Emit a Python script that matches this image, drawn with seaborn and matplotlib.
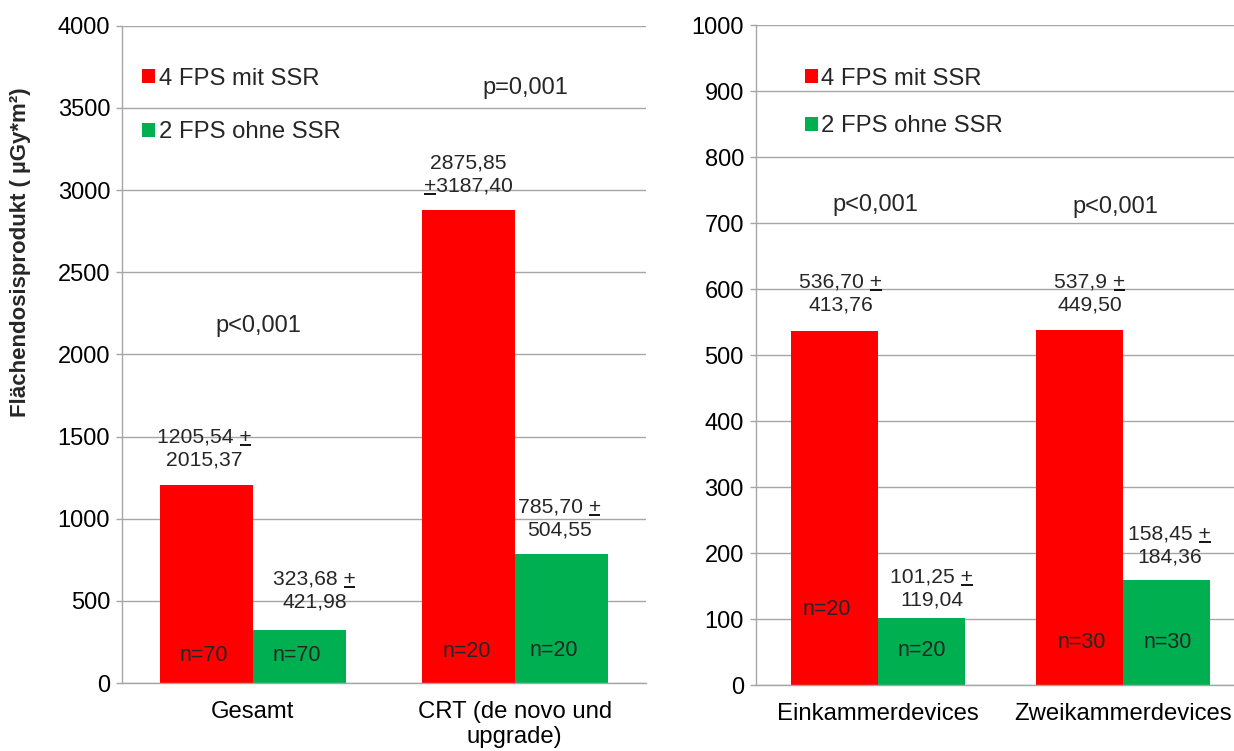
import matplotlib
matplotlib.use("Agg")
import matplotlib.pyplot as plt
import pandas as pd
import seaborn as sns
from matplotlib.lines import Line2D
from matplotlib.patches import Patch
from matplotlib.transforms import IdentityTransform

# ---- data ----
groups = ["4 FPS mit SSR", "2 FPS ohne SSR"]
colors = ["#FF0000", "#00B050"]

left_categories = ["Gesamt", "CRT (de novo und\nupgrade)"]
left_mit = [1205.54, 2875.85]
left_ohne = [323.68, 785.70]
left_n_mit = [70, 20]
left_n_ohne = [70, 20]
left_p = ["p<0,001", "p=0,001"]
left_labels_mit = [("1205,54 +", "2015,37"), ("2875,85", "+3187,40")]
left_labels_ohne = [("323,68 +", "421,98"), ("785,70 +", "504,55")]

right_categories = ["Einkammerdevices", "Zweikammerdevices"]
right_mit = [536.70, 537.9]
right_ohne = [101.25, 158.45]
right_n_mit = [20, 30]
right_n_ohne = [20, 30]
right_p = ["p<0,001", "p<0,001"]
right_labels_mit = [("536,70 +", "413,76"), ("537,9 +", "449,50")]
right_labels_ohne = [("101,25 +", "119,04"), ("158,45 +", "184,36")]

# ---- layout (label placement, in pixels / data units) ----
left_lbl_off = [[(-2, 25), (0, 24)], [(15, 28), (-2, 24)]]      # [hue][cat] (dx, dy of lower line)
right_lbl_off = [[(6, 26), (10, 25)], [(10, 18), (3, 23)]]
left_n_y = [[170, 189], [170, 200]]
left_n_dx = [[-3, -1], [-3, -7]]
right_n_y = [[114, 64], [53, 65]]
right_n_dx = [[-8, 2], [0, 1]]
left_p_xy = [(0.02, 2170), (1.04, 3620)]
right_p_xy = [(-0.01, 727), (0.97, 724)]

GRID = "#a6a6a6"
FONT = ["Liberation Sans", "DejaVu Sans"]
FS_TICK = 17
FS_CAT = 17.2
FS_VAL = 15.2
FS_N = 15.5
FS_P = 17
FS_LEG = 17.2

sns.set_theme(style="white")
plt.rcParams["font.family"] = FONT

fig = plt.figure(figsize=(12.34, 7.51), dpi=100)
ax_l = fig.add_axes([122 / 1234, 68 / 751, 523.7 / 1234, 657.3 / 751])
ax_r = fig.add_axes([755.7 / 1234, 66 / 751, 490 / 1234, 660 / 751])


def long_df(cats, mit, ohne):
    return pd.DataFrame({
        "cat": cats * 2,
        "val": mit + ohne,
        "grp": [groups[0]] * len(cats) + [groups[1]] * len(cats),
    })


def underline_plus(txt):
    s = txt.get_text()
    i = s.find("+")
    if i < 0:
        return
    r = fig.canvas.get_renderer()
    prop = txt.get_fontproperties()
    bb = txt.get_window_extent(r)
    w_pre = r.get_text_width_height_descent(s[:i], prop, ismath=False)[0] if i > 0 else 0
    w_plus = r.get_text_width_height_descent("+", prop, ismath=False)[0]
    d = r.get_text_width_height_descent("lp", prop, ismath=False)[2]
    y = bb.y0 + d - 2.5
    x0 = bb.x0 + w_pre + 0.5
    fig.add_artist(Line2D([x0, x0 + w_plus - 1], [y, y], transform=IdentityTransform(),
                          color="black", lw=1.3, solid_capstyle="butt"))


def style_axis(ax, ymax, step):
    ax.set_xlim(-0.5, 1.5)
    ax.set_ylim(0, ymax)
    ax.set_yticks(range(0, ymax + 1, step))
    ax.yaxis.grid(True, color=GRID, lw=1.0)
    ax.xaxis.grid(False)
    ax.set_axisbelow(True)
    for s in ["top", "right"]:
        ax.spines[s].set_visible(False)
    for s in ["left", "bottom"]:
        ax.spines[s].set_color(GRID)
        ax.spines[s].set_linewidth(1.0)
    ax.set_xticks([-0.5, 0.5, 1.5], minor=True)
    ax.tick_params(axis="x", which="major", length=0, pad=13, labelsize=FS_CAT, colors="black")
    ax.tick_params(axis="x", which="minor", length=4.5, width=1.0, color=GRID, direction="out")
    ax.tick_params(axis="y", which="major", length=4.5, width=1.0, color=GRID, direction="out",
                   pad=4, labelsize=FS_TICK, labelcolor="black", left=True)
    ax.set_xlabel("")
    ax.set_ylabel("")


def draw_panel(ax, cats, mit, ohne, labels, offs, n_vals, n_y, n_dx, p_txt, p_xy, ymax, step):
    df = long_df(cats, mit, ohne)
    sns.barplot(data=df, x="cat", y="val", hue="grp", palette=colors, width=0.71,
                saturation=1, linewidth=0, legend=False, ax=ax)
    style_axis(ax, ymax, step)
    texts = []
    for j, cont in enumerate(ax.containers):
        for i, bar in enumerate(cont):
            xc = bar.get_x() + bar.get_width() / 2
            top = bar.get_height()
            dx, dy = offs[j][i]
            l1, l2 = labels[j][i]
            t2 = ax.annotate(l2, (xc, top), xytext=(dx, dy), textcoords="offset pixels",
                             ha="center", va="center", fontsize=FS_VAL)
            t1 = ax.annotate(l1, (xc, top), xytext=(dx, dy + 23), textcoords="offset pixels",
                             ha="center", va="center", fontsize=FS_VAL)
            texts += [t1, t2]
            ax.annotate(f"n={n_vals[j][i]}", (xc, n_y[j][i]), xytext=(n_dx[j][i], 0),
                        textcoords="offset pixels", ha="center", va="center", fontsize=FS_N)
    for txt, (px, py) in zip(p_txt, p_xy):
        ax.text(px, py, txt, ha="center", va="center", fontsize=FS_P)
    return texts


texts = draw_panel(ax_l, left_categories, left_mit, left_ohne,
                   [left_labels_mit, left_labels_ohne], left_lbl_off,
                   [left_n_mit, left_n_ohne], left_n_y, left_n_dx,
                   left_p, left_p_xy, 4000, 500)
texts += draw_panel(ax_r, right_categories, right_mit, right_ohne,
                    [right_labels_mit, right_labels_ohne], right_lbl_off,
                    [right_n_mit, right_n_ohne], right_n_y, right_n_dx,
                    right_p, right_p_xy, 1000, 100)

for lbl in ax_l.get_xticklabels():
    lbl.set_linespacing(1.2)

handles = [Patch(facecolor=c, edgecolor="none") for c in colors]
leg_kw = dict(loc="upper left", frameon=False, fontsize=FS_LEG, handlelength=0.53,
              handleheight=0.53, handletextpad=0.15, borderpad=0, borderaxespad=0)
ax_l.legend(handles, groups, bbox_to_anchor=(0.0388, 0.936), labelspacing=1.31, **leg_kw)
ax_r.legend(handles, groups, bbox_to_anchor=(0.1006, 0.935), labelspacing=1.07, **leg_kw)

ax_l.set_ylabel("Flächendosisprodukt ( µGy*m²)", fontsize=16, fontweight="bold")
ax_l.yaxis.set_label_coords(-0.174, 0.656)

for t in texts:
    underline_plus(t)

fig.savefig("out.png", dpi=100, facecolor="white")
